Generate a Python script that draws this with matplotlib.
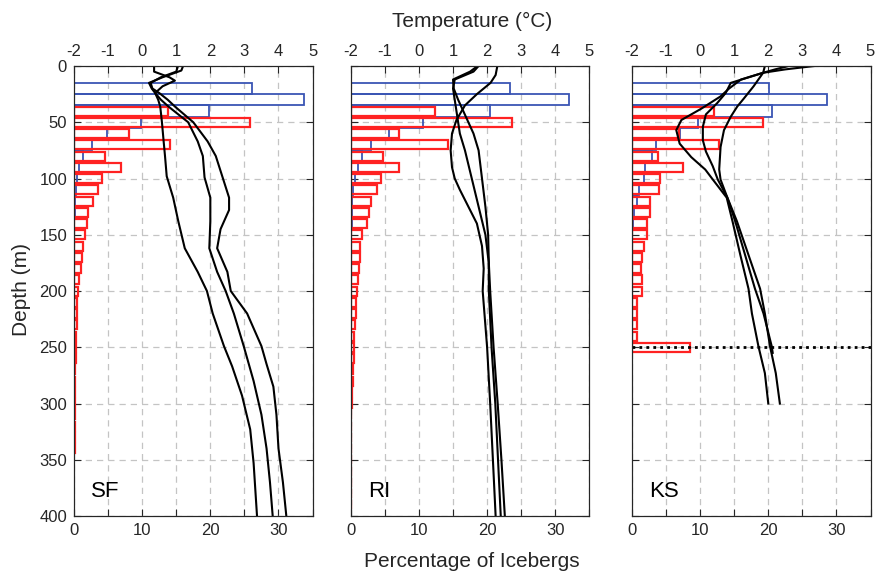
import numpy as np
import matplotlib
matplotlib.use('Agg')
import matplotlib.pyplot as plt

plt.rcParams['font.family'] = ['Liberation Sans', 'DejaVu Sans']
plt.rcParams['axes.unicode_minus'] = False
txt = '#262626'

# iceberg percentage histograms, 10 m bins (bin centre depth)
sf_blue_d = np.arange(20, 150, 10)
sf_blue = [26.1, 33.7, 19.8, 9.9, 4.9, 2.6, 1.3, 0.7, 0.5, 0.25, 0.15, 0.1, 0.05]
sf_red_d = np.arange(40, 350, 10)
sf_red = [13.8, 25.8, 8.0, 14.1, 4.5, 6.9, 4.1, 3.5, 2.8, 2.1, 1.9, 1.6, 1.3, 1.1, 1.0,
          0.8, 0.6, 0.5, 0.45, 0.4, 0.35, 0.3, 0.25, 0.2, 0.2, 0.15, 0.1, 0.1, 0.1, 0.1, 0.1]

ri_blue_d = np.arange(20, 160, 10)
ri_blue = [23.3, 32.0, 20.4, 10.6, 5.6, 3.0, 1.7, 1.0, 0.6, 0.3, 0.2, 0.2, 0.15, 0.1]
ri_red_d = np.arange(40, 400, 10)
ri_red = [12.3, 23.6, 7.1, 14.3, 4.7, 7.1, 4.4, 3.8, 3.0, 2.6, 2.4, 1.7, 1.4, 1.4, 1.2,
          1.0, 0.9, 0.8, 0.7, 0.6, 0.5, 0.45, 0.4, 0.3, 0.25, 0.2, 0.15, 0.1, 0.1, 0.1,
          0.1, 0.1, 0.1, 0.1, 0.1, 0.1]

ks_blue_d = np.arange(20, 150, 10)
ks_blue = [20.1, 28.6, 20.5, 9.7, 7.0, 3.5, 2.9, 1.9, 1.8, 1.1, 0.8, 0.3, 0.2]
ks_red_d = np.arange(40, 260, 10)
ks_red = [12.1, 19.2, 6.9, 12.8, 3.8, 7.5, 4.1, 4.0, 2.6, 2.7, 2.2, 2.2, 1.7, 1.4, 1.3,
          1.5, 1.4, 0.7, 0.7, 0.7, 0.7, 8.5]

# temperature profiles (depth m, temp degC)
sf_d1 = [0, 4, 10, 15, 20, 24, 30, 36, 50, 67, 80, 98, 117, 138, 162, 183, 200, 220, 249, 267, 293, 323, 353, 400]
sf_t1 = [1.2, 1.15, 0.6, 0.2, 0.28, 0.38, 0.47, 0.53, 0.58, 0.63, 0.67, 0.72, 0.91, 1.06, 1.25, 1.63, 1.9, 2.07, 2.4, 2.64, 2.93, 3.17, 3.27, 3.37]
sf_d2 = [0, 5, 10, 13, 18, 24, 30, 36, 50, 67, 80, 99, 117, 138, 162, 183, 200, 220, 249, 280, 310, 340, 370, 400]
sf_t2 = [0.35, 0.35, 0.8, 0.96, 0.6, 0.38, 0.55, 0.77, 1.35, 1.63, 1.78, 1.83, 2.0, 2.0, 1.97, 2.2, 2.45, 2.69, 2.98, 3.27, 3.5, 3.65, 3.75, 3.83]
sf_d3 = [0, 5, 10, 15, 20, 24, 30, 36, 50, 67, 80, 98, 117, 128, 145, 162, 183, 200, 220, 249, 265, 285, 310, 340, 370, 400]
sf_t3 = [1.05, 1.0, 0.55, 0.25, 0.3, 0.5, 0.75, 0.96, 1.5, 1.92, 2.16, 2.35, 2.55, 2.55, 2.3, 2.2, 2.5, 2.6, 3.08, 3.5, 3.65, 3.85, 3.94, 4.0, 4.13, 4.23]

ri_d1 = [0, 5, 12, 20, 30, 40, 50, 60, 75, 100, 125, 150, 175, 200, 250, 300, 350, 400]
ri_t1 = [1.72, 1.5, 1.0, 1.02, 1.15, 1.3, 1.45, 1.6, 1.75, 1.85, 1.95, 2.03, 2.05, 2.05, 2.13, 2.24, 2.32, 2.4]
ri_d2 = [0, 5, 12, 20, 30, 40, 50, 60, 75, 100, 125, 150, 175, 200, 250, 300, 350, 400]
ri_t2 = [1.75, 1.6, 1.05, 1.0, 1.05, 1.1, 1.15, 1.2, 1.35, 1.55, 1.75, 1.95, 2.05, 2.09, 2.19, 2.31, 2.42, 2.52]
ri_d3 = [0, 8, 15, 25, 35, 48, 60, 75, 90, 100, 110, 125, 140, 160, 180, 200, 250, 300, 350, 400]
ri_t3 = [2.3, 2.25, 2.1, 1.7, 1.35, 1.1, 0.97, 0.93, 0.97, 1.05, 1.2, 1.45, 1.7, 1.85, 1.9, 1.87, 2.0, 2.09, 2.17, 2.25]

ks_d1 = [0, 3, 6, 12, 20, 27, 38, 48, 57, 69, 81, 92, 100, 117, 138, 168, 198, 220, 249, 273, 300]
ks_t1 = [3.35, 2.5, 1.85, 1.2, 0.85, 0.6, 0.03, -0.55, -0.7, -0.6, -0.26, 0.15, 0.35, 0.78, 0.95, 1.18, 1.42, 1.52, 1.71, 1.9, 2.0]
ks_d2 = [0, 3, 6, 15, 24, 33, 43, 54, 66, 76, 89, 101, 117, 138, 168, 198, 220, 249, 255]
ks_t2 = [2.6, 2.2, 1.85, 0.9, 0.75, 0.5, 0.17, 0.08, 0.08, 0.17, 0.37, 0.52, 0.8, 1.03, 1.32, 1.61, 1.86, 2.1, 2.13]
ks_d3 = [0, 6, 18, 29, 36, 45, 57, 72, 92, 101, 117, 138, 168, 198, 220, 249, 273, 300]
ks_t3 = [1.9, 1.85, 1.57, 1.28, 1.09, 0.9, 0.7, 0.6, 0.56, 0.6, 0.8, 1.08, 1.42, 1.76, 1.9, 2.05, 2.22, 2.34]

panels = [
    ('SF', sf_blue_d, sf_blue, sf_red_d, sf_red, [(sf_d1, sf_t1), (sf_d2, sf_t2), (sf_d3, sf_t3)]),
    ('RI', ri_blue_d, ri_blue, ri_red_d, ri_red, [(ri_d1, ri_t1), (ri_d2, ri_t2), (ri_d3, ri_t3)]),
    ('KS', ks_blue_d, ks_blue, ks_red_d, ks_red, [(ks_d1, ks_t1), (ks_d2, ks_t2), (ks_d3, ks_t3)]),
]

fig = plt.figure(figsize=(8.77, 5.75), dpi=100)
lefts = [0.0844, 0.400, 0.7206]
w, b, h = 0.272, 0.1026, 0.7826

for i, (name, bd, bv, rd, rv, profiles) in enumerate(panels):
    ax = fig.add_axes([lefts[i], b, w, h])
    ax.barh(bd, bv, height=10, fill=False, edgecolor='#3a55b4', linewidth=1.3)
    ax.barh(rd, rv, height=8, fill=False, edgecolor='#ff2222', linewidth=1.6)
    ax.set_xlim(0, 35)
    ax.set_ylim(400, 0)
    ax.set_xticks(np.arange(0, 36, 5))
    ax.set_xticklabels([str(v) if v % 10 == 0 else '' for v in range(0, 36, 5)])
    ax.set_yticks(np.arange(0, 401, 50))
    if i > 0:
        ax.set_yticklabels([])
    ax.grid(True, color='#c4c4c4', linestyle=(0, (5, 4)), linewidth=0.9)
    ax.set_axisbelow(True)
    ax.tick_params(direction='in', length=5, colors=txt, labelsize=12, right=True, pad=5)
    for s in ax.spines.values():
        s.set_color(txt)
    ax.text(2.5, 378, name, fontsize=16, color='k', va='center')
    if name == 'KS':
        ax.axhline(250, color='k', linestyle=(0, (1, 1.5)), linewidth=2)

    axt = ax.twiny()
    for d, t in profiles:
        axt.plot(t, d, color='k', linewidth=1.5)
    axt.set_xlim(-2, 5)
    axt.set_xticks(np.arange(-2, 6, 1))
    axt.tick_params(direction='in', length=5, colors=txt, labelsize=12, pad=5)
    for s in axt.spines.values():
        s.set_color(txt)

fig.text(0.538, 0.962, 'Temperature (\u00b0C)', ha='center', va='center', fontsize=15, color=txt)
fig.text(0.538, 0.024, 'Percentage of Icebergs', ha='center', va='center', fontsize=15, color=txt)
fig.text(0.025, 0.496, 'Depth (m)', ha='center', va='center', rotation=90, fontsize=15, color=txt)

fig.savefig('out.png', dpi=100)
